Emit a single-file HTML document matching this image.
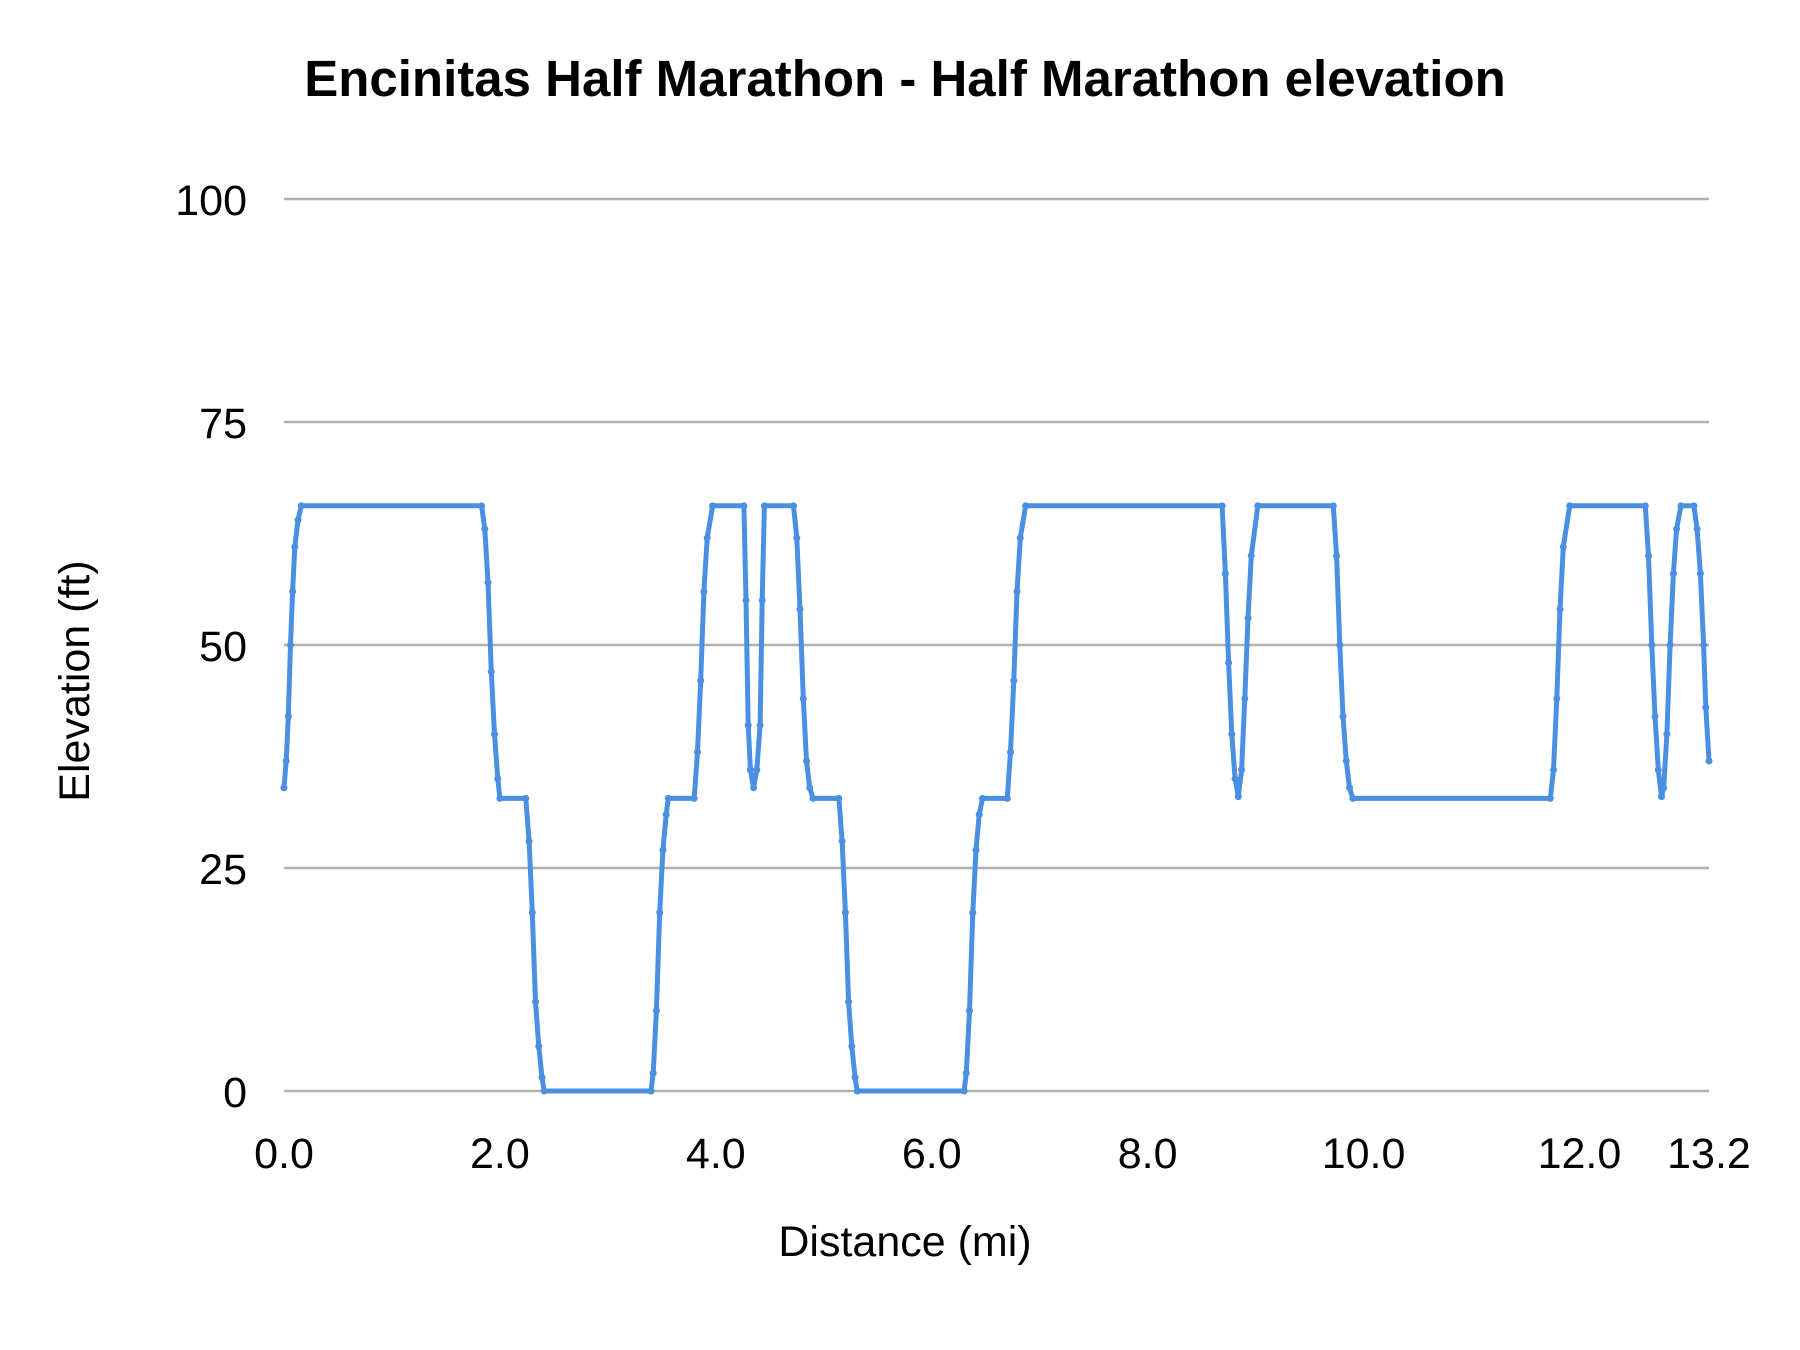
<!DOCTYPE html>
<html><head><meta charset="utf-8">
<style>
html,body{margin:0;padding:0;background:#fff;}
svg{display:block;font-family:"Liberation Sans",sans-serif;}
</style></head>
<body>
<svg id="chart" width="1800" height="1350" viewBox="0 0 1800 1350">
<rect width="1800" height="1350" fill="#fff"/>
<text x="905" y="96" text-anchor="middle" font-size="51" font-weight="bold" fill="#000">Encinitas Half Marathon - Half Marathon elevation</text>
<g id="grid"></g>
<g id="yticks"></g>
<g id="xticks"></g>
<text x="905" y="1256" text-anchor="middle" font-size="43" fill="#000">Distance (mi)</text>
<text transform="translate(89,681) rotate(-90)" text-anchor="middle" font-size="43" fill="#000">Elevation (ft)</text>
<g id="series"></g>
</svg>
<script>
const yTicks = [0, 25, 50, 75, 100];
const xTickValues = [0, 2, 4, 6, 8, 10, 12, 13.2];
const xTickLabels = ["0.0", "2.0", "4.0", "6.0", "8.0", "10.0", "12.0", "13.2"];
const distances = [0,0.02,0.04,0.06,0.08,0.10,0.13,0.16,1.83,1.86,1.89,1.92,1.95,1.98,2.0,2.24,2.27,2.30,2.33,2.36,2.39,2.41,3.40,3.42,3.45,3.48,3.51,3.54,3.56,3.80,3.83,3.86,3.89,3.92,3.97,4.26,4.28,4.30,4.32,4.35,4.38,4.41,4.43,4.45,4.72,4.75,4.78,4.81,4.84,4.87,4.90,5.14,5.17,5.20,5.23,5.26,5.29,5.31,6.30,6.32,6.35,6.38,6.41,6.44,6.47,6.70,6.73,6.76,6.79,6.82,6.87,8.69,8.72,8.75,8.78,8.81,8.84,8.87,8.90,8.93,8.96,9.02,9.72,9.75,9.78,9.81,9.84,9.87,9.90,11.73,11.76,11.79,11.82,11.85,11.91,12.61,12.64,12.67,12.70,12.73,12.76,12.78,12.81,12.84,12.87,12.90,12.94,13.06,13.09,13.12,13.15,13.17,13.2];
const elevations = [34,37,42,50,56,61,64,65.6,65.6,63,57,47,40,35,32.8,32.8,28,20,10,5,1.5,0,0,2,9,20,27,31,32.8,32.8,38,46,56,62,65.6,65.6,55,41,36,34,36,41,55,65.6,65.6,62,54,44,37,34,32.8,32.8,28,20,10,5,1.5,0,0,2,9,20,27,31,32.8,32.8,38,46,56,62,65.6,65.6,58,48,40,35,33,36,44,53,60,65.6,65.6,60,50,42,37,34,32.8,32.8,36,44,54,61,65.6,65.6,60,50,42,36,33,34,40,50,58,63,65.6,65.6,63,58,50,43,37];

const X0 = 284, X1 = 1716, Y0 = 1091, Y1 = 199;
const PLOT_X1 = 1709;
const xScale = v => X0 + (v / 13.2) * (PLOT_X1 - X0);
const yScale = v => Y0 - (v / 100) * (Y0 - Y1);
const NS = "http://www.w3.org/2000/svg";
const grid = document.getElementById('grid');
const yt = document.getElementById('yticks');
const xt = document.getElementById('xticks');
const series = document.getElementById('series');

yTicks.forEach(t => {
  const l = document.createElementNS(NS, 'line');
  l.setAttribute('x1', X0); l.setAttribute('x2', PLOT_X1);
  l.setAttribute('y1', yScale(t)); l.setAttribute('y2', yScale(t));
  l.setAttribute('stroke', '#b0b0b0'); l.setAttribute('stroke-width', '2.5');
  
  
  grid.appendChild(l);
  const tx = document.createElementNS(NS, 'text');
  tx.setAttribute('x', 247); tx.setAttribute('y', yScale(t) + 16);
  tx.setAttribute('text-anchor', 'end'); tx.setAttribute('font-size', '43');
  tx.textContent = t;
  
  
  yt.appendChild(tx);
});
xTickValues.forEach((v, i) => {
  const tx = document.createElementNS(NS, 'text');
  tx.setAttribute('x', xScale(v)); tx.setAttribute('y', 1168);
  tx.setAttribute('text-anchor', 'middle'); tx.setAttribute('font-size', '43');
  tx.textContent = xTickLabels[i];
  
  
  xt.appendChild(tx);
});
const pts = distances.map((d, i) => xScale(d).toFixed(1) + ',' + yScale(elevations[i]).toFixed(1)).join(' ');
const pl = document.createElementNS(NS, 'polyline');
pl.setAttribute('points', pts);
pl.setAttribute('fill', 'none'); pl.setAttribute('stroke', '#4a90e2');
pl.setAttribute('stroke-width', '5'); pl.setAttribute('stroke-linejoin', 'round');


series.appendChild(pl);
distances.forEach((d, i) => {
  const c = document.createElementNS(NS, 'circle');
  c.setAttribute('cx', xScale(d)); c.setAttribute('cy', yScale(elevations[i]));
  c.setAttribute('r', '3.5'); c.setAttribute('fill', '#4a90e2');
  
  
  series.appendChild(c);
});
</script>
</body></html>
